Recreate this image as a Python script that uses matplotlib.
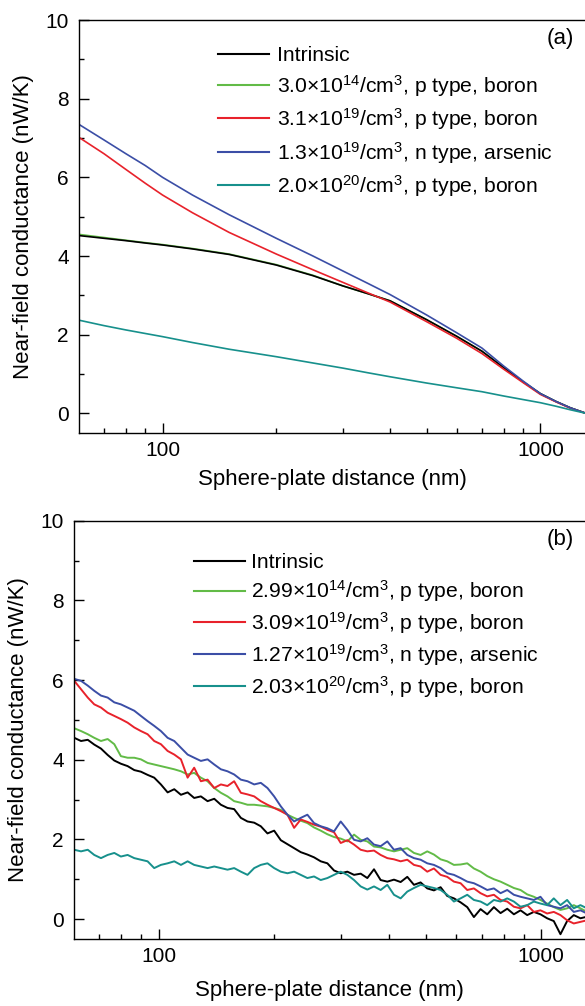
import matplotlib
matplotlib.use("Agg")
import matplotlib.pyplot as plt
from matplotlib.ticker import FixedLocator, NullFormatter

plt.rcParams['font.family'] = ['Liberation Sans', 'DejaVu Sans']
plt.rcParams['mathtext.fontset'] = 'custom'
plt.rcParams['mathtext.rm'] = 'Liberation Sans'
plt.rcParams['mathtext.it'] = 'Liberation Sans'

# ---------------- Panel (a): calculated curves ----------------
xa = [60, 70, 80, 90, 100, 120, 150, 200, 250, 300, 350, 400, 500, 600, 700,
      800, 900, 1000, 1100, 1200, 1320]
ya_intrinsic = [4.52, 4.45, 4.39, 4.33, 4.28, 4.18, 4.04, 3.77, 3.50, 3.24, 3.04,
                2.86, 2.38, 1.96, 1.58, 1.16, 0.80, 0.50, 0.30, 0.14, 0.0]
ya_p14 = [4.55, 4.47, 4.40, 4.34, 4.29, 4.19, 4.05, 3.78, 3.51, 3.24, 3.04,
          2.86, 2.38, 1.96, 1.58, 1.16, 0.80, 0.50, 0.30, 0.14, 0.0]
ya_p19 = [7.02, 6.60, 6.20, 5.85, 5.55, 5.10, 4.60, 4.05, 3.65, 3.33, 3.06,
          2.83, 2.33, 1.91, 1.52, 1.12, 0.78, 0.48, 0.29, 0.13, 0.0]
ya_n19 = [7.35, 6.95, 6.60, 6.30, 6.00, 5.55, 5.05, 4.45, 4.00, 3.62, 3.30,
          3.02, 2.50, 2.05, 1.66, 1.20, 0.82, 0.50, 0.30, 0.14, 0.0]
ya_p20 = [2.37, 2.23, 2.12, 2.03, 1.95, 1.80, 1.63, 1.44, 1.28, 1.15, 1.03,
          0.93, 0.77, 0.65, 0.55, 0.44, 0.35, 0.27, 0.18, 0.09, 0.0]

labels_a = [r'Intrinsic',
            r'3.0$\times$10$^{14}$/cm$^{3}$, p type, boron',
            r'3.1$\times$10$^{19}$/cm$^{3}$, p type, boron',
            r'1.3$\times$10$^{19}$/cm$^{3}$, n type, arsenic',
            r'2.0$\times$10$^{20}$/cm$^{3}$, p type, boron']

# ---------------- Panel (b): measured curves ----------------
xb = [60.2, 62.7, 65.3, 67.9, 70.7, 73.6, 76.6, 79.7, 83.0, 86.4, 89.9, 93.6,
      97.4, 101.4, 105.6, 109.9, 114.4, 119.1, 123.9, 129.0, 134.3, 139.8,
      145.5, 151.4, 157.6, 164.1, 170.8, 177.8, 185.0, 192.6, 200.5, 208.7,
      217.2, 226.1, 235.3, 244.9, 254.9, 265.4, 276.2, 287.5, 299.3, 311.5,
      324.3, 337.5, 351.3, 365.7, 380.6, 396.2, 412.4, 429.3, 446.8, 465.1,
      484.1, 503.9, 524.5, 546.0, 568.3, 591.6, 615.8, 641.0, 667.2, 694.5,
      722.9, 752.5, 783.3, 815.4, 848.7, 883.4, 919.5, 957.2, 995.9, 1036.8,
      1079.1, 1123.3, 1169.2, 1217.0, 1266.8, 1318.6]
yb_intrinsic = [4.55, 4.47, 4.50, 4.38, 4.28, 4.12, 3.98, 3.90, 3.84, 3.74, 3.70,
                3.62, 3.55, 3.38, 3.18, 3.26, 3.12, 3.18, 3.04, 3.08, 2.96, 3.02,
                2.87, 2.79, 2.76, 2.54, 2.45, 2.42, 2.33, 2.15, 2.22, 1.98, 1.88,
                1.78, 1.68, 1.62, 1.55, 1.45, 1.40, 1.22, 1.15, 1.19, 1.11, 1.14,
                1.03, 1.25, 0.98, 0.94, 0.99, 0.93, 1.06, 0.86, 0.92, 0.77, 0.72,
                0.80, 0.58, 0.52, 0.42, 0.30, 0.05, 0.25, 0.12, 0.30, 0.15, 0.26,
                0.12, 0.22, 0.10, 0.18, 0.12, 0.02, -0.05, -0.38, -0.05, 0.10,
                0.02, 0.06]
yb_p14 = [4.79, 4.72, 4.64, 4.55, 4.47, 4.52, 4.39, 4.09, 4.05, 4.05, 4.01, 3.92,
          3.88, 3.84, 3.80, 3.76, 3.71, 3.63, 3.67, 3.55, 3.46, 3.29, 3.17, 3.08,
          2.96, 2.92, 2.87, 2.87, 2.85, 2.83, 2.79, 2.74, 2.62, 2.54, 2.47, 2.41,
          2.30, 2.22, 2.13, 2.06, 2.02, 1.95, 2.12, 1.99, 1.95, 1.82, 1.80, 1.74,
          1.70, 1.74, 1.78, 1.66, 1.61, 1.70, 1.62, 1.50, 1.45, 1.36, 1.37, 1.40,
          1.27, 1.19, 1.08, 1.00, 0.94, 0.86, 0.78, 0.73, 0.62, 0.56, 0.48, 0.39,
          0.30, 0.23, 0.27, 0.35, 0.27, 0.18]
yb_p19 = [5.98, 5.77, 5.56, 5.39, 5.31, 5.18, 5.10, 5.02, 4.93, 4.81, 4.72, 4.64,
          4.47, 4.39, 4.22, 4.13, 4.01, 3.55, 3.80, 3.46, 3.50, 3.29, 3.38, 3.34,
          3.46, 3.17, 3.13, 3.08, 2.96, 2.87, 2.79, 2.71, 2.62, 2.29, 2.50, 2.44,
          2.37, 2.32, 2.24, 2.18, 1.91, 1.98, 1.87, 1.74, 1.70, 1.72, 1.61, 1.53,
          1.50, 1.45, 1.49, 1.36, 1.32, 1.19, 1.27, 1.11, 1.06, 0.94, 0.90, 0.73,
          0.77, 0.65, 0.57, 0.61, 0.48, 0.44, 0.31, 0.27, 0.35, 0.18, 0.22, 0.14,
          0.18, 0.10, -0.03, -0.11, -0.07, -0.03]
yb_n19 = [6.03, 5.98, 5.86, 5.73, 5.61, 5.56, 5.44, 5.39, 5.31, 5.23, 5.10, 4.97,
          4.85, 4.72, 4.55, 4.47, 4.30, 4.13, 4.05, 3.97, 4.01, 3.88, 3.76, 3.71,
          3.63, 3.50, 3.46, 3.38, 3.42, 3.29, 3.08, 2.83, 2.62, 2.45, 2.54, 2.62,
          2.41, 2.33, 2.28, 2.20, 2.45, 2.24, 1.99, 1.95, 2.03, 1.87, 1.83, 1.95,
          1.74, 1.78, 1.61, 1.53, 1.49, 1.40, 1.36, 1.28, 1.15, 1.11, 1.03, 0.94,
          0.90, 0.82, 0.73, 0.77, 0.65, 0.73, 0.61, 0.56, 0.52, 0.48, 0.56, 0.35,
          0.31, 0.27, 0.35, 0.18, 0.22, 0.14]
yb_p20 = [1.74, 1.70, 1.74, 1.61, 1.53, 1.61, 1.66, 1.57, 1.61, 1.53, 1.49, 1.45,
          1.28, 1.36, 1.40, 1.45, 1.36, 1.45, 1.36, 1.32, 1.28, 1.32, 1.28, 1.24,
          1.28, 1.19, 1.11, 1.28, 1.36, 1.40, 1.28, 1.19, 1.15, 1.19, 1.11, 1.03,
          1.07, 0.98, 1.03, 1.11, 1.19, 1.11, 0.98, 0.82, 0.74, 0.82, 0.73, 0.86,
          0.61, 0.52, 0.69, 0.78, 0.86, 0.82, 0.78, 0.73, 0.61, 0.44, 0.52, 0.61,
          0.48, 0.44, 0.35, 0.48, 0.44, 0.52, 0.44, 0.31, 0.35, 0.44, 0.39, 0.35,
          0.52, 0.35, 0.48, 0.27, 0.35, 0.27]

labels_b = [r'Intrinsic',
            r'2.99$\times$10$^{14}$/cm$^{3}$, p type, boron',
            r'3.09$\times$10$^{19}$/cm$^{3}$, p type, boron',
            r'1.27$\times$10$^{19}$/cm$^{3}$, n type, arsenic',
            r'2.03$\times$10$^{20}$/cm$^{3}$, p type, boron']

colors = ['#000000', '#62bb47', '#e8222b', '#3b4ea6', '#17908c']

W, H = 585, 1006
fig = plt.figure(figsize=(W / 100, H / 100), dpi=100)

def px_axes(left, right, top, bottom):
    return fig.add_axes([left / W, 1 - bottom / H, (right - left) / W, (bottom - top) / H])

axa = px_axes(78.7, 586, 20, 433)
axb = px_axes(73.7, 586, 520.7, 939)

def style(ax, xmax, tag, leg_xy, labels, xs, ys_list, lw, xpad, lspace, tpad):
    order = [1, 0, 2, 3, 4]  # draw green under black
    handles = [None] * 5
    for i in order:
        h, = ax.plot(xs, ys_list[i], color=colors[i], lw=lw, label=labels[i])
        handles[i] = h
    ax.set_xscale('log')
    ax.set_xlim(60, xmax)
    ax.set_ylim(-0.5, 10)
    ax.xaxis.set_major_locator(FixedLocator([100, 1000]))
    ax.xaxis.set_minor_locator(FixedLocator([70, 80, 90, 200, 300, 400, 500, 600, 700, 800, 900]))
    ax.xaxis.set_minor_formatter(NullFormatter())
    ax.set_xticklabels(['100', '1000'])
    ax.yaxis.set_major_locator(FixedLocator([0, 2, 4, 6, 8, 10]))
    ax.yaxis.set_minor_locator(FixedLocator([1, 3, 5, 7, 9]))
    ax.tick_params(which='major', direction='in', length=7, width=1.0, labelsize=15)
    ax.tick_params(axis='y', which='major', pad=7)
    ax.tick_params(axis='x', which='major', pad=6)
    ax.tick_params(which='minor', direction='in', length=3.5, width=1.0)
    ax.tick_params(top=False, right=False, which='both')
    for s in ax.spines.values():
        s.set_linewidth(1.0)
    ax.set_xlabel('Sphere-plate distance (nm)', fontsize=16, labelpad=xpad)
    ax.set_ylabel('Near-field conductance (nW/K)', fontsize=16, labelpad=8)
    ax.text(0.95, 0.955, tag, transform=ax.transAxes, fontsize=16, ha='center', va='center')
    leg = ax.legend(handles=handles, loc='upper left', bbox_to_anchor=leg_xy,
                    frameon=False, fontsize=15.2, handlelength=2.4, handletextpad=tpad,
                    labelspacing=lspace, borderaxespad=0, borderpad=0)
    for l in leg.get_lines():
        l.set_linewidth(1.5)

style(axa, 1320, '(a)', (0.275, 0.937), labels_a, xa,
      [ya_intrinsic, ya_p14, ya_p19, ya_n19, ya_p20], 1.2, 6, 0.36, 0.4)
style(axb, 1310, '(b)', (0.235, 0.922), labels_b, xb,
      [yb_intrinsic, yb_p14, yb_p19, yb_n19, yb_p20], 1.4, 10, 0.28, 0.3)

fig.savefig('out.png', dpi=100)
